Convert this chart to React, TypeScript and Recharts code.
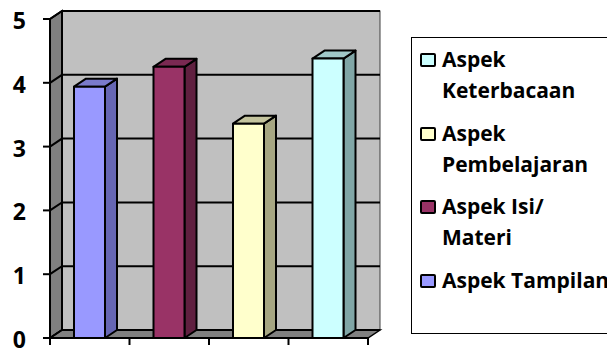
import React from 'react';
import { BarChart, Bar, XAxis, YAxis, CartesianGrid, ReferenceArea, Legend } from 'recharts';

// Assessment scores per aspect
const categories = ['Aspek Tampilan', 'Aspek Isi/ Materi', 'Aspek Pembelajaran', 'Aspek Keterbacaan'];
const scores = [3.94, 4.25, 3.36, 4.38];
const yTicks = [0, 1, 2, 3, 4, 5];

// Column faces: front, right side and top
const frontColors = ['#9999ff', '#993366', '#ffffcc', '#ccffff'];
const sideColors = ['#6666b3', '#602040', '#a6a682', '#80a6a6'];
const topColors = ['#7a7acc', '#7a2952', '#c4c49e', '#a0c8c8'];

const data = categories.map((name, i) => ({ name, value: scores[i], idx: i }));

// 3D depth offset
const DX = 12;
const DY = -8;
const FONT = '"Open Sans", "Noto Sans", sans-serif';

const Column3D = (props: any) => {
  const { x, y, width, height } = props;
  const i = props.payload?.idx ?? props.index ?? 0;
  const xr = x + width;
  const yb = y + height;
  return (
    <g stroke="#000" strokeWidth={2} strokeLinejoin="round">
      <polygon
        points={`${xr},${y} ${xr + DX},${y + DY} ${xr + DX},${yb + DY} ${xr},${yb}`}
        fill={sideColors[i]}
      />
      <polygon
        points={`${x},${y} ${x + DX},${y + DY} ${xr + DX},${y + DY} ${xr},${y}`}
        fill={topColors[i]}
      />
      <rect x={x} y={y} width={width} height={height} fill={frontColors[i]} />
    </g>
  );
};

// Back wall, side wall, floor and the category boundary ticks
const Walls = (props: any) => {
  const { x, y, width, height } = props;
  const x2 = x + width;
  const y2 = y + height;
  const n = categories.length;
  const bounds = Array.from({ length: n + 1 }, (_, k) => x + (width * k) / n);
  return (
    <g>
      <rect x={x + DX} y={y + DY} width={width} height={height} fill="#c0c0c0" stroke="#404040" strokeWidth={1} />
      <line x1={x + DX} y1={y + DY} x2={x2 + DX} y2={y + DY} stroke="#000" strokeWidth={2} />
      <polygon
        points={`${x},${y} ${x + DX},${y + DY} ${x + DX},${y2 + DY} ${x},${y2}`}
        fill="#808080"
        stroke="#000"
        strokeWidth={2}
      />
      <polygon
        points={`${x},${y2} ${x2},${y2} ${x2 + DX},${y2 + DY} ${x + DX},${y2 + DY}`}
        fill="#808080"
        stroke="#000"
        strokeWidth={1.5}
      />
      {bounds.map((bx, k) => (
        <line key={k} x1={bx} y1={y2} x2={bx} y2={y2 + 7} stroke="#000" strokeWidth={2} />
      ))}
    </g>
  );
};

// Horizontal gridline running along the side wall and the back wall
const GridLine = (props: any) => {
  const { x1, x2, y1 } = props;
  return (
    <polyline
      key={props.key ?? `g-${y1}`}
      points={`${x1},${y1} ${x1 + DX},${y1 + DY} ${x2 + DX},${y1 + DY}`}
      fill="none"
      stroke="#000"
      strokeWidth={2}
    />
  );
};

const YTick = (props: any) => {
  const { x, y, payload } = props;
  return (
    <text x={x} y={y} dy={10} textAnchor="end" fontFamily={FONT} fontWeight={700} fontSize={23} fill="#000">
      {payload.value}
    </text>
  );
};

const legendOrder = categories.map((_, i) => i).reverse();

const LegendBox = () => (
  <div style={{ paddingTop: 6, paddingLeft: 8, fontFamily: FONT, fontWeight: 700, fontSize: 21, color: '#000' }}>
    {legendOrder.map((i) => (
      <div key={i} style={{ display: 'flex', alignItems: 'flex-start', marginBottom: 11.7 }}>
        <div
          style={{
            flex: 'none',
            marginTop: 9,
            marginRight: 6,
            width: 16,
            height: 14,
            boxSizing: 'border-box',
            border: '2px solid #000',
            borderRadius: 2,
            background: frontColors[i],
          }}
        />
        <div style={{ width: 170, lineHeight: '31px' }}>{categories[i]}</div>
      </div>
    ))}
  </div>
);

export default function App() {
  return (
    <div style={{ position: 'absolute', left: 0, top: 0, width: 607, height: 352, overflow: 'hidden', background: '#fff' }}>
      <BarChart width={607} height={352} data={data} margin={{ top: 19, right: 239, bottom: 0, left: 0 }} barSize={31}>
        <ReferenceArea y1={0} y2={5} shape={<Walls />} zIndex={-150} ifOverflow="visible" />
        <CartesianGrid vertical={false} horizontal={(p: any) => <GridLine {...p} />} />
        <XAxis dataKey="name" tick={false} tickLine={false} axisLine={{ stroke: '#000', strokeWidth: 2 }} height={14} />
        <YAxis
          domain={[0, 5]}
          ticks={yTicks}
          width={50}
          tickSize={7}
          tickMargin={17}
          tick={<YTick />}
          tickLine={{ stroke: '#000', strokeWidth: 2 }}
          axisLine={{ stroke: '#000', strokeWidth: 2 }}
        />
        <Bar dataKey="value" shape={<Column3D />} isAnimationActive={false} />
        <Legend
          layout="vertical"
          align="center"
          verticalAlign="middle"
          wrapperStyle={{
            left: 411,
            top: 37,
            width: 240,
            height: 297,
            border: '1px solid #000',
            boxSizing: 'border-box',
            background: '#fff',
          }}
          content={() => <LegendBox />}
        />
      </BarChart>
    </div>
  );
}
